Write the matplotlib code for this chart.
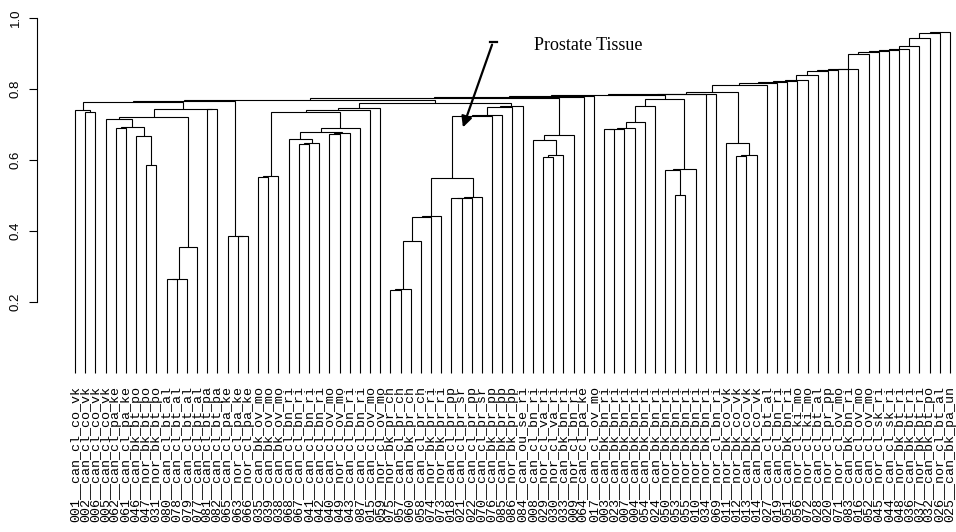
import numpy as np
import matplotlib
matplotlib.use("Agg")
import matplotlib.pyplot as plt

#leaf labels, in plot order (left to right)
labels = [
    "001__can_cl_co_vk", "002__can_cl_co_vk", "006__can_cl_co_vk", "005__can_cl_co_vk",
    "062__can_cl_pa_ke", "061__can_cl_pa_ke", "046__can_bk_bt_po", "047__nor_bk_bt_po",
    "031__nor_bk_bt_po", "080__can_cl_bt_al", "078__can_cl_bt_al", "079__can_cl_bt_al",
    "077__can_cl_bt_al", "081__can_cl_bt_pa", "082__can_cl_bt_pa", "065__can_cl_pa_ke",
    "063__nor_cl_pa_ke", "066__nor_cl_pa_ke", "035__can_bk_ov_mo", "039__can_bk_ov_mo",
    "038__can_bk_ov_mo", "068__can_cl_bn_ri", "067__can_cl_bn_ri", "041__can_cl_bn_ri",
    "042__can_cl_bn_ri", "040__can_cl_ov_mo", "049__nor_cl_ov_mo", "043__can_cl_bn_ri",
    "087__can_cl_bn_ri", "015__can_cl_ov_mo", "059__nor_cl_ov_mo", "075__nor_bk_pr_ch",
    "057__can_cl_pr_ch", "060__can_bk_pr_ch", "058__can_cl_pr_ch", "074__nor_bk_pr_ri",
    "073__nor_bk_pr_ri", "018__can_cl_pr_pp", "021__can_cl_pr_sr", "022__can_cl_pr_pp",
    "070__can_cl_pr_sr", "076__can_bk_pr_pp", "085__can_bk_pr_pp", "086__nor_bk_pr_pp",
    "084__can_ou_se_ri", "008__can_cl_bn_ri", "029__nor_cl_va_ri", "030__nor_cl_va_ri",
    "033__can_bk_bn_ri", "009__nor_cl_bn_ri", "064__can_cl_pa_ke", "017__can_cl_ov_mo",
    "003__can_bk_bn_ri", "023__can_bk_bn_ri", "007__can_bk_bn_ri", "004__can_bk_bn_ri",
    "054__can_bk_bn_ri", "024__can_bk_bn_ri", "050__nor_bk_bn_ri", "053__nor_bk_bn_ri",
    "055__nor_bk_bn_ri", "010__nor_bk_bn_ri", "034__nor_bk_bn_ri", "069__nor_cl_bn_ri",
    "011__nor_bk_co_vk", "012__nor_bk_co_vk", "013__can_bk_co_vk", "014__can_bk_co_vk",
    "027__can_cl_bt_al", "019__can_cl_bn_ri", "051__can_bk_bn_ri", "056__nor_cl_ki_mo",
    "072__nor_cl_ki_mo", "028__can_cl_bt_al", "020__nor_cl_pr_pp", "071__nor_cl_ov_mo",
    "083__can_bk_bn_ri", "016__can_cl_ov_mo", "052__can_cl_ov_mo", "045__nor_cl_sk_ri",
    "044__can_cl_sk_ri", "048__nor_bk_bt_ri", "036__can_bk_bt_ri", "037__nor_bk_bt_ri",
    "032__can_bk_bt_po", "026__nor_cl_bt_al", "025__can_bk_pa_un",
]

#merge table, R hclust style: negative = leaf number, positive = earlier merge step
merge_left = [
    -2, -1, -8, -7, -5, 5, -4, -10, 8, 9, 7, -14, 11, 2, -17, -16, 14,
    -19, 18, -23, 20, -22, -26, 23, 22, 25, 19, 27, 28,
    -32, 30, 31, 32, 33, -38, 35, 36, 34, 38, 39, 40, 41, 29, 17,
    -47, 45, -46, 47, 44, 49, 50,
    -53, 52, 53, 54, 55, -60, -59, 58, 56, 51, 61, 62,
    -66, 64, -65, 63, 67, 68, 69, 70, 71, 72, 73, 74, 75, 76, 77, 78, 79, 80,
    81, 82, 83, 84, 85,
]
merge_right = [
    -3, 1, -9, 3, -6, 4, 6, -11, -12, -13, 10, -15, 12, 13, -18, 15, 16,
    -20, -21, -24, -25, 21, -27, -28, 24, -29, 26, -30, -31,
    -33, -34, -35, -36, -37, -39, -40, -41, 37, -42, -43, -44, -45, 42, 43,
    -48, -49, 46, -50, 48, -51, -52,
    -54, -55, -56, -57, -58, -61, 57, -62, 59, 60, -63, -64,
    -67, -68, 65, 66, -69, -70, -71, -72, -73, -74, -75, -76, -77, -78, -79, -80,
    -81, -82, -83, -84, -85, -86, -87,
]
heights = [
    0.736, 0.740, 0.586, 0.668, 0.689, 0.692, 0.715, 0.264, 0.266, 0.356, 0.720,
    0.743, 0.745, 0.763, 0.385, 0.387, 0.766,
    0.553, 0.555, 0.645, 0.648, 0.658, 0.674, 0.676, 0.678, 0.691, 0.736, 0.740, 0.747,
    0.234, 0.237, 0.373, 0.440, 0.442, 0.492, 0.494, 0.495, 0.548, 0.725, 0.727,
    0.750, 0.752, 0.760, 0.769,
    0.609, 0.615, 0.657, 0.671, 0.774, 0.778, 0.780,
    0.686, 0.687, 0.689, 0.706, 0.753, 0.501, 0.573, 0.575, 0.772, 0.783, 0.785, 0.787,
    0.612, 0.614, 0.649, 0.792, 0.811, 0.817, 0.820, 0.822, 0.826, 0.840, 0.852,
    0.854, 0.855, 0.857, 0.899, 0.904, 0.906, 0.909, 0.912, 0.922, 0.945, 0.957, 0.961,
]

yticks = [0.2, 0.4, 0.6, 0.8, 1.0]
ytick_labels = ["0.2", "0.4", "0.6", "0.8", "1.0"]
annot_text = "Prostate Tissue"

n = len(labels)

#figure 956x532 px, axes start at the y axis line
fig = plt.figure(figsize=(9.56, 5.32), dpi=100)
ax = fig.add_axes([37 / 956, 0, 1 - 37 / 956, 1])
step = 10.174
ax.set_xlim((37 - 75) / step, (956 - 75) / step)
ax.set_ylim(1 - (532 - 18) / 355, 1 + 18 / 355)

#node positions
node_x = []
node_y = []

def child_pos(c):
    if c < 0:
        return -c - 1, 0.0
    return node_x[c - 1], node_y[c - 1]

for l, r, h in zip(merge_left, merge_right, heights):
    xl, yl = child_pos(l)
    xr, yr = child_pos(r)
    ax.plot([xl, xl, xr, xr], [yl, h, h, yr], color="black", lw=0.8,
            solid_joinstyle="miter", solid_capstyle="butt")
    node_x.append((xl + xr) / 2)
    node_y.append(h)

#leaf labels
for i, lab in enumerate(labels):
    ax.text(i, -0.036, lab, rotation=90, ha="center", va="top",
            family="Liberation Mono", fontsize=9.6, color="black")

#y axis like R
for s in ["top", "right", "bottom"]:
    ax.spines[s].set_visible(False)
ax.spines["left"].set_bounds(yticks[0], yticks[-1])
ax.spines["left"].set_linewidth(0.8)
ax.set_xticks([])
ax.set_yticks(yticks)
ax.set_yticklabels(ytick_labels, rotation=90, va="center",
                   family="Liberation Sans", fontsize=9.5)
ax.tick_params(axis="y", direction="out", length=6, width=0.8, pad=5)
ax.patch.set_visible(False)

#arrow to the prostate cluster
ax.annotate("", xy=((462 - 75) / step, 1 - (130 - 18) / 355),
            xytext=((493 - 75) / step, 1 - (42 - 18) / 355),
            arrowprops=dict(arrowstyle="-|>", color="black", lw=1.6, mutation_scale=16))
ax.plot([(490 - 75) / step, (497 - 75) / step], [1 - (42 - 18) / 355] * 2,
        color="black", lw=1.6)
ax.text((588 - 75) / step, 1 - (45 - 18) / 355, annot_text, ha="center", va="center",
        family="Liberation Serif", fontsize=13)

fig.savefig("out.png", dpi=100, facecolor="white")
